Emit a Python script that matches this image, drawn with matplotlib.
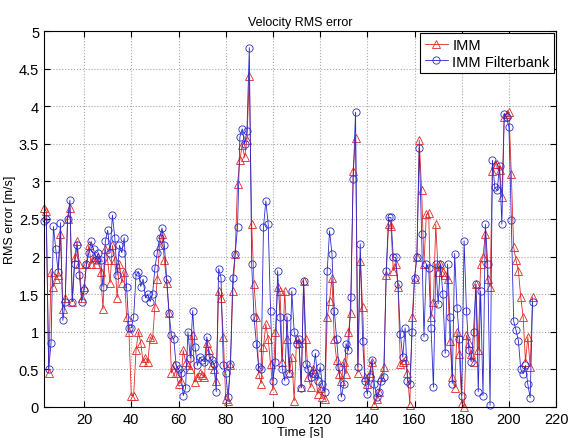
import matplotlib

matplotlib.use("Agg")
import matplotlib.pyplot as plt
from matplotlib.ticker import FuncFormatter

plt.rcParams["font.family"] = ["Liberation Sans", "DejaVu Sans"]

# time stamps [s]
time_s = list(range(3, 211))

# IMM velocity RMS error [m/s]
imm = [
    2.65, 2.6, 0.45, 1.8, 1.6, 1.7, 1.75, 2.3, 1.3, 1.45,
    2.5, 2.65, 1.4, 2.0, 2.2, 1.9, 1.45, 1.6, 1.9, 2.15,
    1.9, 2.0, 1.9, 2.0, 1.8, 1.3, 2.1, 1.95, 1.65, 2.15,
    1.95, 1.45, 1.9, 1.65, 1.8, 1.2, 1.0, 0.15, 0.15, 0.75,
    1.0, 0.85, 0.6, 0.65, 0.6, 0.93, 0.9, 1.33, 1.7, 2.15,
    2.3, 1.95, 1.65, 1.25, 0.45, 0.55, 0.45, 0.3, 0.35, 0.75,
    0.6, 0.55, 0.5, 0.95, 0.33, 0.4, 0.45, 0.42, 0.4, 0.85,
    0.75, 0.55, 0.5, 0.35, 1.54, 1.45, 0.93, 0.1, 0.08, 0.55,
    1.54, 2.03, 2.97, 3.28, 3.49, 3.32, 3.55, 4.4, 2.43, 1.63,
    1.2, 0.44, 0.31, 0.8, 1.1, 0.9, 0.57, 0.22, 1.0, 1.59,
    1.54, 0.6, 1.54, 0.9, 0.45, 0.66, 0.08, 0.9, 0.85, 0.26,
    1.68, 0.9, 0.4, 0.26, 0.5, 0.45, 0.17, 0.25, 0.13, 0.1,
    1.2, 1.41, 1.72, 0.9, 0.62, 0.44, 0.35, 0.6, 0.44, 1.0,
    1.25, 3.14, 3.58, 0.45, 1.94, 1.33, 0.4, 0.3, 0.45, 0.6,
    0.03, 0.1, 0.2, 0.4, 0.53, 1.75, 2.43, 2.4, 1.81, 1.9,
    1.6, 0.57, 0.6, 0.62, 0.45, 0.03, 1.2, 1.7, 2.0, 3.55,
    2.88, 1.9, 2.56, 2.58, 1.19, 1.4, 2.43, 1.8, 1.9, 1.8,
    1.75, 1.7, 0.88, 0.4, 0.25, 1.0, 0.7, 0.05, 0.0, 0.95,
    0.85, 0.7, 0.6, 1.63, 0.75, 1.9, 2.0, 2.3, 1.7, 1.6,
    3.14, 3.23, 3.23, 3.15, 2.79, 3.85, 3.9, 3.92, 3.1, 2.12,
    1.95, 1.81, 1.46, 1.2, 0.6, 0.93, 0.53, 1.46,
]

# IMM filterbank velocity RMS error [m/s]
imm_fb = [
    2.47, 2.5, 0.5, 0.85, 2.4, 2.1, 1.8, 2.45, 1.15, 1.4,
    2.5, 2.75, 1.4, 1.9, 2.15, 1.75, 1.4, 1.55, 1.9, 2.05,
    2.2, 2.1, 1.95, 2.05, 1.95, 1.6, 2.2, 2.35, 2.05, 2.55,
    2.25, 1.75, 2.15, 2.05, 2.25, 1.6, 1.05, 1.05, 1.2, 1.75,
    1.8, 1.6, 1.7, 1.45, 1.5, 1.4, 1.5, 1.85, 2.05, 2.25,
    2.38, 2.15, 1.7, 1.25, 0.95, 0.9, 0.55, 0.5, 0.45, 0.15,
    0.25, 1.0, 0.65, 1.28, 0.8, 0.55, 0.66, 0.62, 0.6, 0.93,
    0.66, 0.62, 0.57, 0.2, 1.84, 1.72, 0.55, 0.45, 0.13, 0.57,
    1.72, 2.03, 2.39, 3.59, 3.7, 3.5, 3.67, 4.78, 1.9, 1.19,
    0.84, 0.53, 0.5, 2.39, 2.74, 2.43, 1.28, 0.35, 0.6, 1.81,
    1.2, 0.5, 0.35, 1.2, 0.45, 1.54, 1.0, 0.84, 0.9, 0.25,
    1.68, 0.57, 0.5, 0.4, 0.45, 0.71, 0.35, 0.53, 0.3, 0.2,
    1.81, 2.34, 2.04, 1.28, 0.9, 0.53, 0.13, 0.3, 0.84, 0.75,
    1.46, 3.03, 3.92, 0.53, 2.17, 0.88, 0.35, 0.17, 0.4, 0.62,
    0.3, 0.13, 0.2, 0.35, 0.4, 1.81, 2.52, 2.52, 1.99, 1.99,
    1.63, 0.97, 0.66, 1.05, 0.35, 0.3, 1.0, 1.72, 2.0, 3.45,
    2.3, 0.93, 1.9, 1.85, 1.05, 0.26, 1.9, 1.37, 1.9, 1.5,
    0.71, 1.9, 1.2, 0.31, 2.04, 1.32, 0.9, 0.15, 2.21, 1.28,
    0.75, 0.6, 1.0, 1.63, 0.2, 1.54, 0.15, 2.43, 1.9, 0.02,
    3.28, 2.92, 2.88, 3.2, 2.43, 3.9, 3.85, 3.72, 2.48, 1.14,
    1.02, 0.88, 0.5, 0.44, 0.55, 0.3, 0.12, 1.4,
]

x_ticks = [20, 40, 60, 80, 100, 120, 140, 160, 180, 200, 220]
y_ticks = [0, 0.5, 1, 1.5, 2, 2.5, 3, 3.5, 4, 4.5, 5]

fig = plt.figure(figsize=(5.71, 4.39), dpi=100)
ax = fig.add_axes([0.077, 0.071, 0.897, 0.856])

ax.plot(time_s, imm, color="#e02828", linewidth=0.6, marker="^",
        markersize=5.2, markerfacecolor="none", markeredgewidth=0.6,
        label="IMM", clip_on=False)
ax.plot(time_s, imm_fb, color="#2828d0", linewidth=0.6, marker="o",
        markersize=5.2, markerfacecolor="none", markeredgewidth=0.6,
        label="IMM Filterbank", clip_on=False)

ax.set_xlim(3, 220)
ax.set_ylim(0, 5)
ax.set_xticks(x_ticks)
ax.set_yticks(y_ticks)
ax.yaxis.set_major_formatter(FuncFormatter(lambda v, _: f"{v:g}"))
ax.tick_params(direction="in", labelsize=10.5, length=4, top=True, right=True)
ax.grid(True, linestyle=":", color="#a8a8a8", linewidth=0.8)

ax.set_title("Velocity RMS error", fontsize=9, pad=4)
ax.set_xlabel("Time [s]", fontsize=9.5, labelpad=0)
ax.set_ylabel("RMS error [m/s]", fontsize=9, labelpad=2)

leg = ax.legend(loc="upper right", fontsize=10.5, fancybox=False,
                framealpha=1, edgecolor="black", borderaxespad=0.15,
                handlelength=1.6, handletextpad=0.3, borderpad=0.3,
                labelspacing=0.2)
leg.get_frame().set_linewidth(0.8)

fig.savefig("out.png", dpi=100)
